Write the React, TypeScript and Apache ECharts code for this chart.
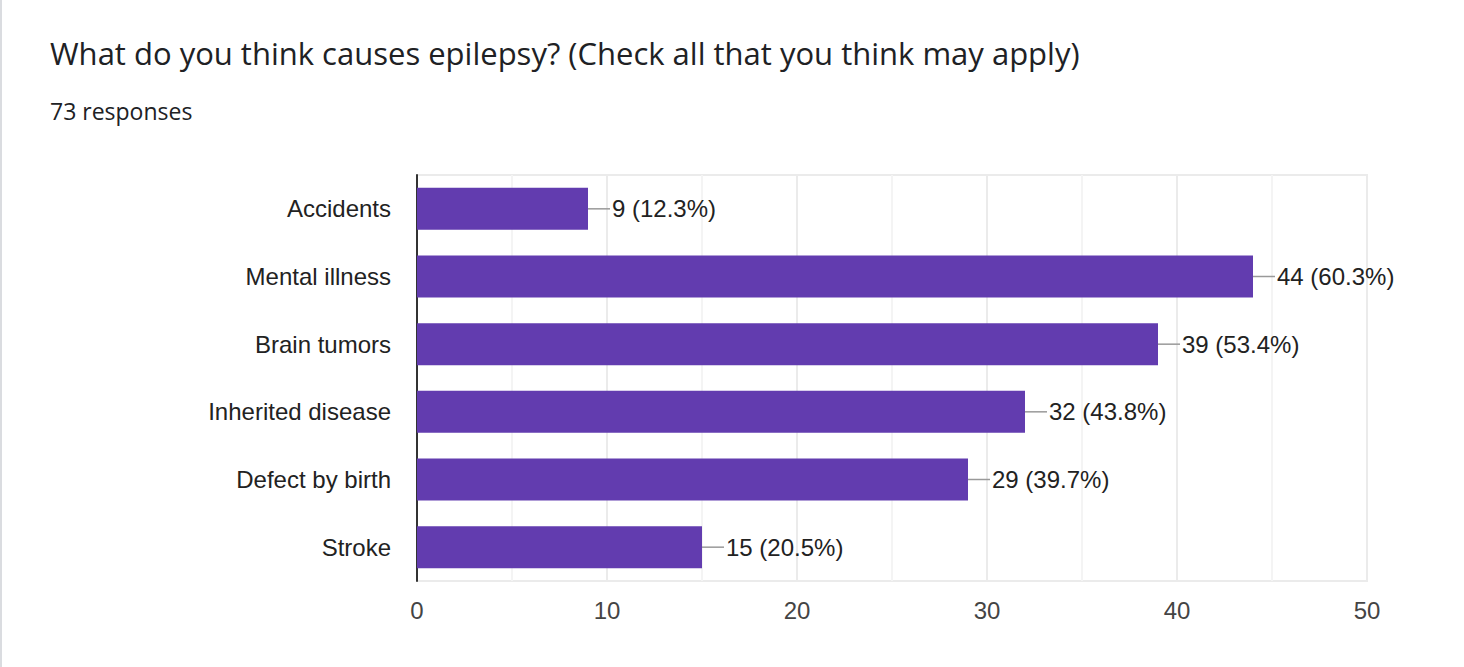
import React, { useEffect, useRef } from "react";
import * as echarts from "echarts";

const titleText = "What do you think causes epilepsy? (Check all that you think may apply)";
const subtitleText = "73 responses";
const totalResponses = 73;
const categories = ["Accidents", "Mental illness", "Brain tumors", "Inherited disease", "Defect by birth", "Stroke"];
const counts = [9, 44, 39, 32, 29, 15];
const xTicks = [0, 10, 20, 30, 40, 50];

export default function App() {
  const ref = useRef<HTMLDivElement>(null);
  useEffect(() => {
    if (!ref.current) return;
    const chart = echarts.init(ref.current, undefined, { renderer: "svg" });
    const labelFont = "Liberation Sans, Arial, sans-serif";
    chart.setOption({
      animation: false,
      backgroundColor: "#ffffff",
      graphic: [
        { type: "rect", shape: { x: 0, y: 0, width: 2, height: 667 }, style: { fill: "#dadce0" } },
        {
          type: "text",
          x: 50,
          y: 53,
          style: {
            text: titleText,
            fontSize: 31,
            fontFamily: "Open Sans, sans-serif",
            fill: "#202124",
            verticalAlign: "middle",
          },
        },
        {
          type: "text",
          x: 50,
          y: 111,
          style: {
            text: subtitleText,
            fontSize: 23,
            fontFamily: "Open Sans, sans-serif",
            fill: "#202124",
            verticalAlign: "middle",
          },
        },
      ],
      grid: {
        left: 417,
        right: 97,
        top: 175,
        bottom: 86,
        show: true,
        borderColor: "#ebebeb",
        borderWidth: 2,
        backgroundColor: "transparent",
      },
      xAxis: {
        type: "value",
        min: xTicks[0],
        max: xTicks[xTicks.length - 1],
        interval: 10,
        axisLine: { show: false },
        axisTick: { show: false },
        axisLabel: { fontSize: 24, color: "#444444", fontFamily: labelFont, margin: 17 },
        splitLine: { show: true, lineStyle: { color: "#ebebeb", width: 2 } },
        minorTick: { show: false, splitNumber: 2 },
        minorSplitLine: { show: true, lineStyle: { color: "#f4f4f4", width: 2 } },
      },
      yAxis: {
        type: "category",
        data: categories,
        inverse: true,
        axisLine: { show: true, lineStyle: { color: "#333333", width: 2 } },
        axisTick: { show: false },
        axisLabel: { fontSize: 24, color: "#222222", fontFamily: labelFont, margin: 26 },
        splitLine: { show: false },
      },
      series: [
        {
          type: "bar",
          data: counts,
          barWidth: 42,
          itemStyle: { color: "#623caf" },
          label: {
            show: true,
            position: "right",
            distance: 24,
            fontSize: 24,
            color: "#222222",
            fontFamily: labelFont,
            formatter: (p: any) => `${p.value} (${((p.value / totalResponses) * 100).toFixed(1)}%)`,
          },
          z: 3,
        },
        {
          type: "custom",
          data: counts.map((v, i) => [v, i]),
          renderItem: (params: any, api: any) => {
            const pt = api.coord([api.value(0), api.value(1)]);
            return {
              type: "line",
              shape: { x1: pt[0], y1: pt[1], x2: pt[0] + 22, y2: pt[1] },
              style: { stroke: "#999999", lineWidth: 1.5 },
            };
          },
          z: 2,
        },
      ],
    });
    return () => chart.dispose();
  }, []);
  return (
    <div
      ref={ref}
      style={{ position: "fixed", left: 0, top: 0, width: 1464, height: 667, background: "#fff" }}
    />
  );
}
